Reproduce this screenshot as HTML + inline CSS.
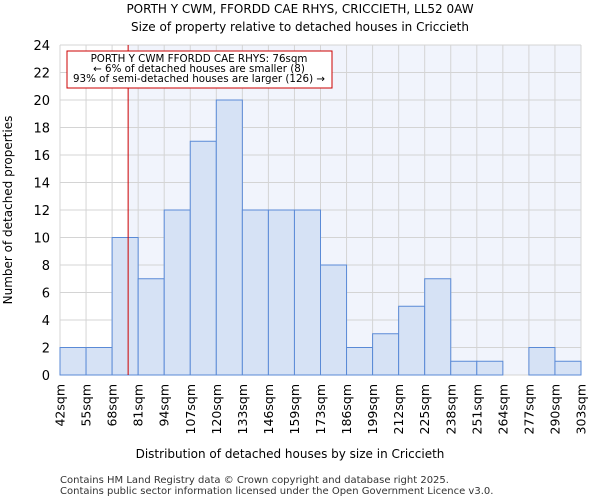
<!DOCTYPE html>
<html><head><meta charset="utf-8"><style>
body{margin:0;background:#fff;font-family:"DejaVu Sans","Liberation Sans",sans-serif;}
</style></head><body>
<svg id="chart" width="600" height="500" xmlns="http://www.w3.org/2000/svg" font-family="DejaVu Sans, Liberation Sans, sans-serif">
<text x="300" y="13" text-anchor="middle" font-size="12">PORTH Y CWM, FFORDD CAE RHYS, CRICCIETH, LL52 0AW</text>
<text x="300" y="31" text-anchor="middle" font-size="12">Size of property relative to detached houses in Criccieth</text>
<g id="plot"></g>
<text x="290" y="458" text-anchor="middle" font-size="12">Distribution of detached houses by size in Criccieth</text>
<text transform="translate(12,210) rotate(-90)" text-anchor="middle" font-size="12">Number of detached properties</text>
<text x="60" y="483" font-size="10" fill="#333">Contains HM Land Registry data © Crown copyright and database right 2025.</text>
<text x="60" y="494" font-size="10" fill="#333">Contains public sector information licensed under the Open Government Licence v3.0.</text>
</svg>
<script>
const binLabels=["42sqm","55sqm","68sqm","81sqm","94sqm","107sqm","120sqm","133sqm","146sqm","159sqm","173sqm","186sqm","199sqm","212sqm","225sqm","238sqm","251sqm","264sqm","277sqm","290sqm","303sqm"];
const counts=[2,2,10,7,12,17,20,12,12,12,8,2,3,5,7,1,1,0,2,1];
const yTicks=[0,2,4,6,8,10,12,14,16,18,20,22,24];
const propertySize=76;
const binStart=42, binStep=13;
const NS="http://www.w3.org/2000/svg";
const X0=60,X1=581,Y0=375,Y1=45,YMAX=24;
const n=counts.length, bw=(X1-X0)/n;
const xIdx=i=>X0+i*bw;
const xVal=v=>X0+(v-binStart)/binStep*bw;
const y=v=>Y0-(v/YMAX)*(Y0-Y1);
const g=document.getElementById('plot');
function mk(t,a){const e=document.createElementNS(NS,t);for(const k in a)e.setAttribute(k,a[k]);g.appendChild(e);return e;}
const px=xVal(propertySize);
let e=mk('rect',{x:X0,y:Y1,width:X1-X0,height:Y0-Y1,fill:'#ffffff'});


e=mk('rect',{x:px,y:Y1,width:X1-px,height:Y0-Y1,fill:'#f1f4fc'});


for(let i=0;i<=n;i++){e=mk('line',{x1:xIdx(i),x2:xIdx(i),y1:Y1,y2:Y0,stroke:'#d4d4d4','stroke-width':1});

}
yTicks.forEach(t=>{e=mk('line',{x1:X0,x2:X1,y1:y(t),y2:y(t),stroke:'#d4d4d4','stroke-width':1});


e=mk('text',{x:X0-10,y:y(t)+5,'text-anchor':'end','font-size':13});e.textContent=t;

});
counts.forEach((c,i)=>{if(c<=0)return;e=mk('rect',{x:xIdx(i),y:y(c),width:bw,height:Y0-y(c),fill:'#d6e2f5',stroke:'#5a8ad6','stroke-width':1});

});
binLabels.forEach((l,i)=>{e=mk('text',{transform:`translate(${xIdx(i)+4.5},384) rotate(-90)`,'text-anchor':'end','font-size':12.5});e.textContent=l;

});
e=mk('line',{x1:px,x2:px,y1:Y1,y2:Y0,stroke:'#cc0000','stroke-width':1});


e=mk('rect',{x:67,y:51,width:265,height:37,fill:'#fff',stroke:'#cc0000','stroke-width':1});


["PORTH Y CWM FFORDD CAE RHYS: 76sqm","← 6% of detached houses are smaller (8)","93% of semi-detached houses are larger (126) →"].forEach((s,i)=>{
e=mk('text',{x:199,y:62+i*10,'text-anchor':'middle','font-size':10.3});e.textContent=s;

});
</script>
</body></html>
